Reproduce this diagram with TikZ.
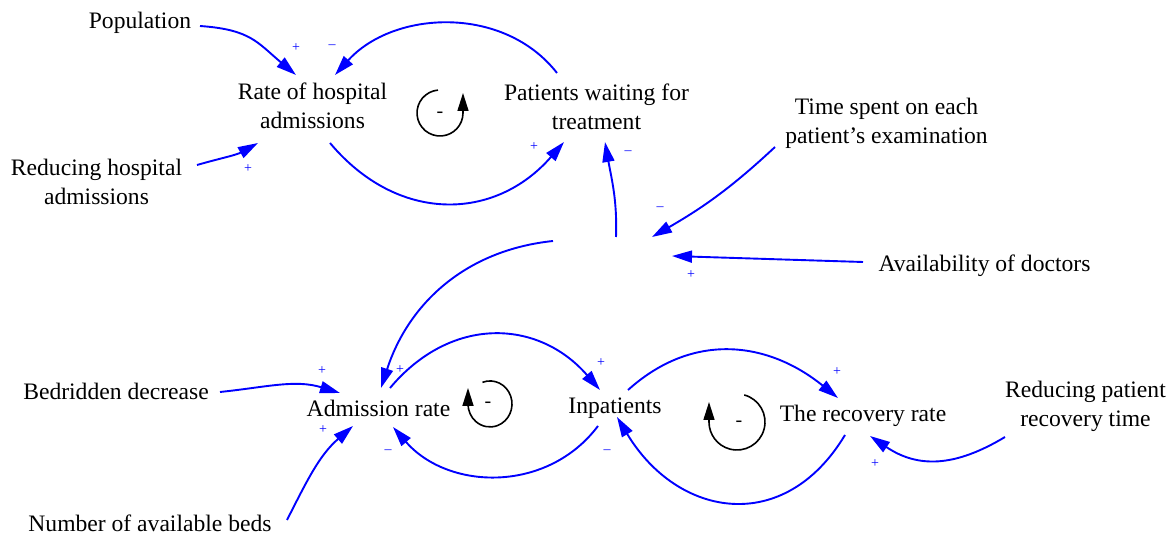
\documentclass[tikz,border=0pt]{standalone}
\usepackage{fontspec}
\setmainfont{Liberation Serif}
\usetikzlibrary{arrows.meta}
\definecolor{linkblue}{RGB}{0,0,255}

\tikzset{
  var/.style={font=\fontsize{23.6}{28.5}\selectfont, align=center, inner sep=0pt, anchor=base},
  link/.style={draw=linkblue, line width=1.9pt, -{Triangle[length=20pt,width=12pt]}},
  sign/.style={text=linkblue, font=\fontsize{14}{14}\selectfont, inner sep=0pt},
  loopline/.style={draw=black, line width=1.6pt, -{Triangle[length=18pt,width=11pt]}},
  loopsign/.style={font=\fontsize{20}{20}\selectfont, inner sep=0pt}
}

\begin{document}
\begin{tikzpicture}[x=1pt,y=1pt]
\useasboundingbox (0,0) rectangle (1176,538);

% variables
\node[var] (pop) at (140,509.5) {Population};
\node[var] (rate) at (312.5,409.5) {Rate of hospital\\admissions};
\node[var] (wait) at (596.5,408.5) {Patients waiting for\\treatment};
\node[var] (redhosp) at (96.5,333.5) {Reducing hospital\\admissions};
\node[var] (time) at (886.5,394.5) {Time spent on each\\patient's examination};
\node[var] (avail) at (984.5,266) {Availability of doctors};
\node[var] (bed) at (116,138) {Bedridden decrease};
\node[var] (adm) at (378.5,121) {Admission rate};
\node[var] (inp) at (615,124) {Inpatients};
\node[var] (recov) at (863,116) {The recovery rate};
\node[var] (redrec) at (1085.5,111.5) {Reducing patient\\recovery time};
\node[var] (beds) at (150,6) {Number of available beds};
\coordinate (exam) at (612,290);

% causal links
\draw[link] ([shift={(60,2.5)}]pop.base) to[out=-4,in=140,looseness=1.2] ([shift={(-16.5,53.5)}]rate.base);
\draw[link] ([shift={(-39.5,56.5)}]wait.base) to[out=128,in=48] ([shift={(22.5,53.5)}]rate.base);
\draw[link] ([shift={(17.5,-14.5)}]rate.base) to[out=-50,in=-131,looseness=1.15] ([shift={(-32.5,-12.5)}]wait.base);
\draw[link] ([shift={(100.5,39.5)}]redhosp.base) to[out=16,in=-151] ([shift={(-54.5,-14.5)}]rate.base);
\draw[link] ([shift={(4,11)}]exam) to[out=88,in=-80] ([shift={(8.5,-12.5)}]wait.base);
\draw[link] ([shift={(-111.5,-3.5)}]time.base) to[out=-137,in=30] ([shift={(40,11)}]exam);
\draw[link] ([shift={(-121.5,10)}]avail.base) -- ([shift={(60,-8)}]exam);
\draw[link] ([shift={(-59,7)}]exam) to[out=186,in=72] ([shift={(2.5,29)}]adm.base);
\draw[link] ([shift={(104,8)}]bed.base) to[out=6,in=163] ([shift={(-38.5,24)}]adm.base);
\draw[link] ([shift={(137,12)}]beds.base) to[out=63,in=-139] ([shift={(-25.5,-9)}]adm.base);
\draw[link] ([shift={(11.5,29)}]adm.base) to[out=50,in=131,looseness=1.15] ([shift={(-15,24)}]inp.base);
\draw[link] ([shift={(-17,-12)}]inp.base) to[out=-127,in=-49,looseness=1.05] ([shift={(14.5,-10)}]adm.base);
\draw[link] ([shift={(13,24)}]inp.base) to[out=42,in=141,looseness=1.08] ([shift={(-25,24)}]recov.base);
\draw[link] ([shift={(-18,-13)}]recov.base) to[out=-121,in=-59,looseness=1.32] ([shift={(2,-3)}]inp.base);
\draw[link] ([shift={(-80.5,-10.5)}]redrec.base) to[out=-149,in=-34,looseness=1.1] ([shift={(7,-14)}]recov.base);

% polarities
\foreach \x/\y/\s [count=\i] in {296/490/+, 332/491/\textendash, 534/391/+, 248/369/+,
  628/385/\textendash, 660/329/\textendash, 691/263/+, 322/167/+, 400/168/+, 323/108/+,
  601/175/+, 388/86/\textendash, 837/166/+, 607/86/\textendash, 875/74/+}
  \node[sign] (pol\i) at (\x,\y) {\s};

% loop markers
\draw[loopline] (440,425) ++(95:23) arc[start angle=95,end angle=360,radius=23] -- ++(0,20);
\node[loopsign] (loopA) at (440,423) {-};
\draw[loopline] (490,135) ++(110:22) arc[start angle=110,end angle=-180,x radius=22,y radius=23] -- ++(0,16);
\node[loopsign] (loopB) at (488,133) {-};
\draw[loopline] (737,116) ++(75:28) arc[start angle=75,end angle=-180,radius=28] -- ++(0,20);
\node[loopsign] (loopC) at (739,114) {-};
\end{tikzpicture}
\end{document}
